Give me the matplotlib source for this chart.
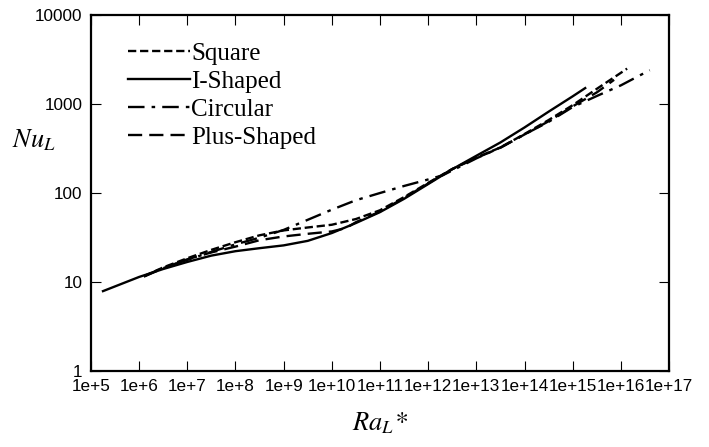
import numpy as np
import matplotlib as mpl
import matplotlib.pyplot as plt

mpl.rcParams['mathtext.fontset'] = 'stix'

# log10(Ra_L*) and Nu_L
i_logra = [5.25, 6.0, 6.5, 7.0, 7.5, 8.0, 8.5, 9.0, 9.5, 10.0, 10.5, 11.0,
           11.5, 12.0, 12.5, 13.0, 13.5, 14.0, 14.5, 15.0, 15.26]
i_nu = [7.9, 11.4, 14.0, 16.8, 19.8, 22.2, 24.0, 25.8, 29.0, 35.5, 46.0, 61.0,
        86.0, 126.0, 185.0, 262.0, 370.0, 545.0, 820.0, 1220.0, 1510.0]

circ_logra = [6.1, 6.5, 7.0, 7.5, 8.0, 8.5, 9.0, 9.5, 10.0, 10.5, 11.0, 11.5,
              12.0, 12.3, 13.0, 13.5, 14.0, 14.5, 15.0, 15.5, 16.0, 16.6]
circ_nu = [11.6, 14.5, 17.7, 21.8, 26.5, 31.5, 38.5, 50.0, 65.0, 83.0, 100.0, 120.0,
           142.0, 158.0, 245.0, 325.0, 455.0, 630.0, 925.0, 1230.0, 1620.0, 2400.0]

sq_logra = [6.1, 6.5, 7.0, 7.5, 8.0, 8.5, 9.0, 9.5, 10.0, 10.5, 11.0, 11.5,
            12.0, 12.5, 13.0, 13.5, 14.0, 14.5, 15.0, 15.5, 16.0, 16.13]
sq_nu = [11.6, 14.6, 18.5, 23.0, 28.0, 33.5, 38.0, 41.0, 44.0, 51.0, 64.0, 90.0,
         130.0, 186.0, 250.0, 325.0, 460.0, 660.0, 970.0, 1480.0, 2240.0, 2500.0]

plus_logra = [6.1, 6.5, 7.0, 7.5, 8.0, 8.5, 9.0, 9.5, 10.0, 10.3, 10.5, 11.0, 11.5,
              12.0, 12.5, 13.0, 13.5, 14.0, 14.5, 15.0, 15.5, 15.86]
plus_nu = [11.5, 14.3, 18.0, 21.5, 25.0, 29.5, 32.5, 34.8, 37.0, 40.5, 47.0, 62.0, 88.0,
           128.0, 186.0, 248.0, 322.0, 455.0, 640.0, 940.0, 1350.0, 1870.0]

xtick_exp = list(range(5, 18))
xtick_labels = [f'1e+{e}' for e in xtick_exp]
ytick_vals = [1, 10, 100, 1000, 10000]
ytick_labels = ['1', '10', '100', '1000', '10000']

fig = plt.figure(figsize=(7.09, 4.47), dpi=100)
ax = fig.add_axes([0.1283, 0.170, 0.8153, 0.7964])

lw = 1.7
ax.plot(10 ** np.array(sq_logra), sq_nu, color='k', lw=lw, ls=(0, (3.5, 1.6)), label='Square')
ax.plot(10 ** np.array(i_logra), i_nu, color='k', lw=lw, ls='-', label='I-Shaped')
ax.plot(10 ** np.array(circ_logra), circ_nu, color='k', lw=lw, ls=(0, (7, 3, 1.5, 3)), label='Circular')
ax.plot(10 ** np.array(plus_logra), plus_nu, color='k', lw=lw, ls=(0, (6, 3)), label='Plus-Shaped')

ax.set_xscale('log')
ax.set_yscale('log')
ax.set_xlim(1e5, 1e17)
ax.set_ylim(1, 10000)

ax.set_xticks([10.0 ** e for e in xtick_exp])
ax.set_xticklabels(xtick_labels)
ax.set_yticks(ytick_vals)
ax.set_yticklabels(ytick_labels)
ax.minorticks_off()
ax.tick_params(which='major', direction='in', length=7, width=0.8,
               top=True, right=True, labelsize=12.3, pad=6)
for lab in ax.get_xticklabels() + ax.get_yticklabels():
    lab.set_family('Liberation Sans')
for sp in ax.spines.values():
    sp.set_linewidth(1.6)

ax.set_xlabel(r'$Ra_L$*', fontsize=19, family='STIXGeneral', style='italic', labelpad=12)
ax.set_ylabel(r'$Nu_L$', fontsize=19, rotation=0, labelpad=14)
ax.yaxis.set_label_coords(-0.098, 0.61)

leg = ax.legend(loc='upper left', bbox_to_anchor=(0.046, 0.952), frameon=False,
                handlelength=2.5, handletextpad=0.05, labelspacing=0.22, borderaxespad=0,
                prop={'family': 'Liberation Serif', 'size': 18})

fig.savefig('out.png', dpi=100)
